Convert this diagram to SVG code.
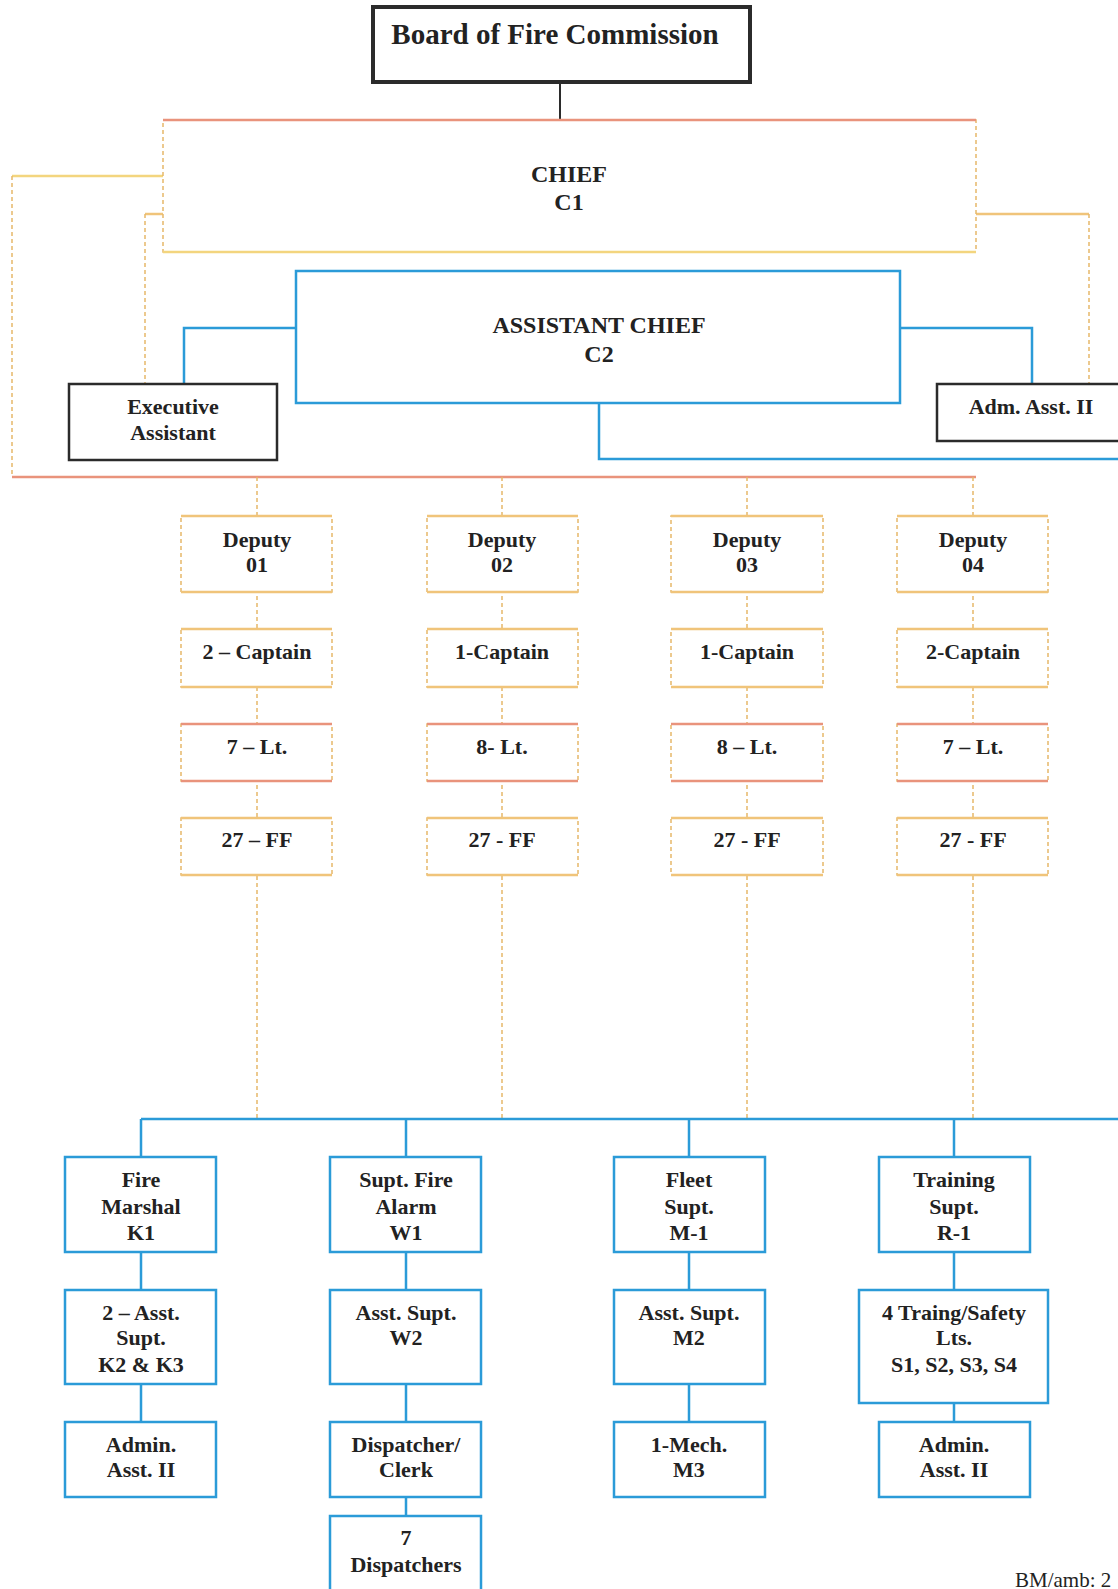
<svg xmlns="http://www.w3.org/2000/svg" width="1118" height="1589" viewBox="0 0 1118 1589">
<style>
  text { font-family: "Liberation Serif", "Times New Roman", serif; font-weight: bold; fill: #222; text-anchor: middle; }
  .t22 { font-size: 22px; }
  .t24 { font-size: 24px; }
  .blk { fill: #fff; stroke: #2b2b2b; stroke-width: 2.5; }
  .blue { fill: #fff; stroke: #2b9bd8; stroke-width: 2.5; }
  .bl { fill: none; stroke: #2b9bd8; stroke-width: 2.5; }
  .dash { fill: none; stroke: #e6b86a; stroke-width: 1.5; stroke-dasharray: 4 3; }
  .dbox { fill: #fff; stroke: #e6b86a; stroke-width: 1.5; stroke-dasharray: 4 3; }
  .sal { fill: none; stroke: #e9937c; stroke-width: 2.5; }
  .yel { fill: none; stroke: #f3d57e; stroke-width: 2.5; }
  .org { fill: none; stroke: #f0c47a; stroke-width: 2.5; }
</style>

<g id="connectors">
  <line x1="560" y1="82" x2="560" y2="120" stroke="#2b2b2b" stroke-width="2"/>
  <line class="yel" x1="163" y1="176" x2="12" y2="176"/>
  <line class="dash" x1="12" y1="176" x2="12" y2="477"/>
  <line class="sal" x1="12" y1="477" x2="976" y2="477"/>
  <line class="org" x1="163" y1="214" x2="145" y2="214"/>
  <line class="dash" x1="145" y1="214" x2="145" y2="384"/>
  <line class="org" x1="976" y1="214" x2="1089" y2="214"/>
  <line class="dash" x1="1089" y1="214" x2="1089" y2="384"/>
  <polyline class="bl" points="296,328 184,328 184,384"/>
  <polyline class="bl" points="900,328 1032,328 1032,384"/>
  <polyline class="bl" points="599,403 599,459 1118,459"/>
  <line class="dash" x1="257" y1="477" x2="257" y2="1119"/>
  <line class="dash" x1="502" y1="477" x2="502" y2="1119"/>
  <line class="dash" x1="747" y1="477" x2="747" y2="1119"/>
  <line class="dash" x1="973" y1="477" x2="973" y2="1119"/>
  <line class="bl" x1="141" y1="1119" x2="1118" y2="1119"/>
  <line class="bl" x1="141" y1="1119" x2="141" y2="1422"/>
  <line class="bl" x1="406" y1="1119" x2="406" y2="1516"/>
  <line class="bl" x1="689" y1="1119" x2="689" y2="1422"/>
  <line class="bl" x1="954" y1="1119" x2="954" y2="1422"/>
</g>

<g id="board">
  <rect x="373" y="7" width="377" height="75" fill="#fff" stroke="#2b2b2b" stroke-width="4"/>
  <text x="555" y="44" style="font-size:29px">Board of Fire Commission</text>
</g>

<g id="chief">
  <rect class="dbox" x="163" y="120" width="813" height="132"/>
  <line class="sal" x1="163" y1="120" x2="976" y2="120"/>
  <line class="yel" x1="163" y1="252" x2="976" y2="252"/>
  <text class="t24" x="569" y="182">CHIEF</text>
  <text class="t24" x="569" y="210">C1</text>
</g>

<g id="asst-chief">
  <rect class="blue" x="296" y="271" width="604" height="132"/>
  <text class="t24" x="599" y="333">ASSISTANT CHIEF</text>
  <text class="t24" x="599" y="362">C2</text>
</g>

<g id="exec-asst">
  <rect class="blk" x="69" y="384" width="208" height="76"/>
  <text class="t22" x="173" y="414">Executive</text>
  <text class="t22" x="173" y="440">Assistant</text>
</g>

<g id="adm-asst">
  <rect class="blk" x="937" y="384" width="200" height="57"/>
  <text class="t22" x="1031" y="414">Adm. Asst. II</text>
</g>

<g id="deputy01">
  <rect class="dbox" x="181" y="516" width="151" height="76"/>
  <line class="org" x1="181" y1="516" x2="332" y2="516"/><line class="org" x1="181" y1="592" x2="332" y2="592"/>
  <text class="t22" x="257" y="547">Deputy</text><text class="t22" x="257" y="572">01</text>
</g>
<g id="captain01">
  <rect class="dbox" x="181" y="629" width="151" height="58"/>
  <line class="org" x1="181" y1="629" x2="332" y2="629"/><line class="org" x1="181" y1="687" x2="332" y2="687"/>
  <text class="t22" x="257" y="659">2 – Captain</text>
</g>
<g id="lt01">
  <rect class="dbox" x="181" y="724" width="151" height="57"/>
  <line class="sal" x1="181" y1="724" x2="332" y2="724"/><line class="sal" x1="181" y1="781" x2="332" y2="781"/>
  <text class="t22" x="257" y="754">7 – Lt.</text>
</g>
<g id="ff01">
  <rect class="dbox" x="181" y="818" width="151" height="57"/>
  <line class="org" x1="181" y1="818" x2="332" y2="818"/><line class="org" x1="181" y1="875" x2="332" y2="875"/>
  <text class="t22" x="257" y="847">27 – FF</text>
</g>

<g id="deputy02">
  <rect class="dbox" x="427" y="516" width="151" height="76"/>
  <line class="org" x1="427" y1="516" x2="578" y2="516"/><line class="org" x1="427" y1="592" x2="578" y2="592"/>
  <text class="t22" x="502" y="547">Deputy</text><text class="t22" x="502" y="572">02</text>
</g>
<g id="captain02">
  <rect class="dbox" x="427" y="629" width="151" height="58"/>
  <line class="org" x1="427" y1="629" x2="578" y2="629"/><line class="org" x1="427" y1="687" x2="578" y2="687"/>
  <text class="t22" x="502" y="659">1-Captain</text>
</g>
<g id="lt02">
  <rect class="dbox" x="427" y="724" width="151" height="57"/>
  <line class="sal" x1="427" y1="724" x2="578" y2="724"/><line class="sal" x1="427" y1="781" x2="578" y2="781"/>
  <text class="t22" x="502" y="754">8- Lt.</text>
</g>
<g id="ff02">
  <rect class="dbox" x="427" y="818" width="151" height="57"/>
  <line class="org" x1="427" y1="818" x2="578" y2="818"/><line class="org" x1="427" y1="875" x2="578" y2="875"/>
  <text class="t22" x="502" y="847">27 - FF</text>
</g>

<g id="deputy03">
  <rect class="dbox" x="671" y="516" width="152" height="76"/>
  <line class="org" x1="671" y1="516" x2="823" y2="516"/><line class="org" x1="671" y1="592" x2="823" y2="592"/>
  <text class="t22" x="747" y="547">Deputy</text><text class="t22" x="747" y="572">03</text>
</g>
<g id="captain03">
  <rect class="dbox" x="671" y="629" width="152" height="58"/>
  <line class="org" x1="671" y1="629" x2="823" y2="629"/><line class="org" x1="671" y1="687" x2="823" y2="687"/>
  <text class="t22" x="747" y="659">1-Captain</text>
</g>
<g id="lt03">
  <rect class="dbox" x="671" y="724" width="152" height="57"/>
  <line class="sal" x1="671" y1="724" x2="823" y2="724"/><line class="sal" x1="671" y1="781" x2="823" y2="781"/>
  <text class="t22" x="747" y="754">8 – Lt.</text>
</g>
<g id="ff03">
  <rect class="dbox" x="671" y="818" width="152" height="57"/>
  <line class="org" x1="671" y1="818" x2="823" y2="818"/><line class="org" x1="671" y1="875" x2="823" y2="875"/>
  <text class="t22" x="747" y="847">27 - FF</text>
</g>

<g id="deputy04">
  <rect class="dbox" x="897" y="516" width="151" height="76"/>
  <line class="org" x1="897" y1="516" x2="1048" y2="516"/><line class="org" x1="897" y1="592" x2="1048" y2="592"/>
  <text class="t22" x="973" y="547">Deputy</text><text class="t22" x="973" y="572">04</text>
</g>
<g id="captain04">
  <rect class="dbox" x="897" y="629" width="151" height="58"/>
  <line class="org" x1="897" y1="629" x2="1048" y2="629"/><line class="org" x1="897" y1="687" x2="1048" y2="687"/>
  <text class="t22" x="973" y="659">2-Captain</text>
</g>
<g id="lt04">
  <rect class="dbox" x="897" y="724" width="151" height="57"/>
  <line class="sal" x1="897" y1="724" x2="1048" y2="724"/><line class="sal" x1="897" y1="781" x2="1048" y2="781"/>
  <text class="t22" x="973" y="754">7 – Lt.</text>
</g>
<g id="ff04">
  <rect class="dbox" x="897" y="818" width="151" height="57"/>
  <line class="org" x1="897" y1="818" x2="1048" y2="818"/><line class="org" x1="897" y1="875" x2="1048" y2="875"/>
  <text class="t22" x="973" y="847">27 - FF</text>
</g>

<g id="fire-marshal">
  <rect class="blue" x="65" y="1157" width="151" height="95"/>
  <text class="t22" x="141" y="1187">Fire</text><text class="t22" x="141" y="1214">Marshal</text><text class="t22" x="141" y="1240">K1</text>
</g>
<g id="asst-supt-k">
  <rect class="blue" x="65" y="1290" width="151" height="94"/>
  <text class="t22" x="141" y="1320">2 – Asst.</text><text class="t22" x="141" y="1345">Supt.</text><text class="t22" x="141" y="1372">K2 &amp; K3</text>
</g>
<g id="admin-k">
  <rect class="blue" x="65" y="1422" width="151" height="75"/>
  <text class="t22" x="141" y="1452">Admin.</text><text class="t22" x="141" y="1477">Asst. II</text>
</g>

<g id="fire-alarm">
  <rect class="blue" x="330" y="1157" width="151" height="95"/>
  <text class="t22" x="406" y="1187">Supt. Fire</text><text class="t22" x="406" y="1214">Alarm</text><text class="t22" x="406" y="1240">W1</text>
</g>
<g id="asst-supt-w">
  <rect class="blue" x="330" y="1290" width="151" height="94"/>
  <text class="t22" x="406" y="1320">Asst. Supt.</text><text class="t22" x="406" y="1345">W2</text>
</g>
<g id="dispatcher-clerk">
  <rect class="blue" x="330" y="1422" width="151" height="75"/>
  <text class="t22" x="406" y="1452">Dispatcher/</text><text class="t22" x="406" y="1477">Clerk</text>
</g>
<g id="dispatchers">
  <rect class="blue" x="330" y="1516" width="151" height="80"/>
  <text class="t22" x="406" y="1545">7</text><text class="t22" x="406" y="1572">Dispatchers</text>
</g>

<g id="fleet">
  <rect class="blue" x="614" y="1157" width="151" height="95"/>
  <text class="t22" x="689" y="1187">Fleet</text><text class="t22" x="689" y="1214">Supt.</text><text class="t22" x="689" y="1240">M-1</text>
</g>
<g id="asst-supt-m">
  <rect class="blue" x="614" y="1290" width="151" height="94"/>
  <text class="t22" x="689" y="1320">Asst. Supt.</text><text class="t22" x="689" y="1345">M2</text>
</g>
<g id="mech">
  <rect class="blue" x="614" y="1422" width="151" height="75"/>
  <text class="t22" x="689" y="1452">1-Mech.</text><text class="t22" x="689" y="1477">M3</text>
</g>

<g id="training">
  <rect class="blue" x="879" y="1157" width="151" height="95"/>
  <text class="t22" x="954" y="1187">Training</text><text class="t22" x="954" y="1214">Supt.</text><text class="t22" x="954" y="1240">R-1</text>
</g>
<g id="safety-lts">
  <rect class="blue" x="859" y="1290" width="189" height="113"/>
  <text class="t22" x="954" y="1320">4 Traing/Safety</text><text class="t22" x="954" y="1345">Lts.</text><text class="t22" x="954" y="1372">S1, S2, S3, S4</text>
</g>
<g id="admin-r">
  <rect class="blue" x="879" y="1422" width="151" height="75"/>
  <text class="t22" x="954" y="1452">Admin.</text><text class="t22" x="954" y="1477">Asst. II</text>
</g>

<text x="1015" y="1587" style="font-size:21px;font-weight:normal;text-anchor:start">BM/amb: 2</text>
</svg>
